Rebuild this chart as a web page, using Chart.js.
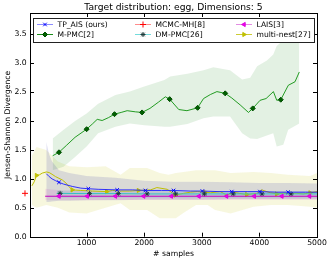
<!DOCTYPE html>
<html>
<head>
<meta charset="utf-8">
<script src="https://cdn.jsdelivr.net/npm/chart.js@4/dist/chart.umd.min.js"></script>
<style>
  html, body { margin: 0; padding: 0; background: #fff; }
  #wrap { width: 332px; height: 263px; }
</style>
</head>
<body>
<div id="wrap"><canvas id="chart" width="332" height="263"></canvas></div>
<script>
const titleText = 'Target distribution: egg, Dimensions: 5';
const xTicks = [1000, 2000, 3000, 4000, 5000];
const yTicks = [0, 0.5, 1.0, 1.5, 2.0, 2.5, 3.0, 3.5];

// TP_AIS (ours)
const tpX = [300, 350, 400, 460, 520, 600, 750, 900, 1030, 1200, 1530, 1800, 2020, 2300, 2510, 2800, 3010, 3300, 3520, 3800, 4010, 4300, 4500, 4800, 5000];
const tpY = [1.09, 1.04, 1.00, 0.97, 0.94, 0.91, 0.87, 0.84, 0.83, 0.82, 0.81, 0.81, 0.80, 0.80, 0.80, 0.79, 0.79, 0.78, 0.78, 0.78, 0.78, 0.77, 0.77, 0.77, 0.77];
const tpMarks = [520, 1030, 1530, 2020, 2510, 3010, 3520, 4010, 4500];
const tpBandX = [300, 350, 400, 520, 700, 1000, 1500, 2000, 2500, 3000, 3500, 4000, 4500, 5000];
const tpUp = [1.64, 1.42, 1.30, 1.15, 1.10, 1.05, 1.02, 0.97, 0.95, 0.95, 0.94, 0.93, 0.93, 0.92];
const tpLo = [0.60, 0.60, 0.61, 0.62, 0.62, 0.63, 0.63, 0.64, 0.64, 0.64, 0.65, 0.65, 0.65, 0.65];

// MCMC-MH[8]
const mhX = [-70];
const mhY = [0.75];

// LAIS[3]
const laisX = [280, 520, 1010, 1500, 1990, 2470, 2950, 3430, 3910, 4390, 4870, 5000];
const laisY = [0.70, 0.70, 0.70, 0.70, 0.70, 0.70, 0.70, 0.70, 0.70, 0.70, 0.70, 0.70];
const laisMarks = [520, 1010, 1500, 1990, 2470, 2950, 3430, 3910, 4390, 4870];
const laisBandX = [280, 600, 1000, 2000, 3000, 4000, 5000];
const laisUp = [0.83, 0.80, 0.79, 0.79, 0.78, 0.78, 0.78];
const laisLo = [0.63, 0.63, 0.63, 0.64, 0.64, 0.64, 0.64];

// M-PMC[2]
const pmcX = [410, 520, 650, 800, 1000, 1100, 1184, 1270, 1380, 1484, 1600, 1704, 1850, 1963, 2100, 2250, 2367, 2442, 2600, 2742, 2927, 3030, 3150, 3262, 3406, 3520, 3666, 3810, 3885, 4012, 4116, 4243, 4301, 4371, 4502, 4618, 4693];
const pmcY = [1.40, 1.46, 1.58, 1.72, 1.86, 1.95, 2.03, 2.01, 2.06, 2.12, 2.15, 2.18, 2.16, 2.15, 2.22, 2.33, 2.42, 2.38, 2.20, 2.18, 2.23, 2.39, 2.46, 2.51, 2.48, 2.40, 2.28, 2.15, 2.22, 2.36, 2.39, 2.51, 2.36, 2.37, 2.62, 2.68, 2.85];
const pmcMarks = [520, 1000, 1484, 1963, 2442, 2927, 3406, 3885, 4371];
const pmcBandX = [410, 600, 800, 1000, 1200, 1500, 1750, 2000, 2350, 2450, 2750, 3030, 3200, 3490, 3700, 3840, 3960, 4130, 4240, 4300, 4415, 4500, 4693];
const pmcUp = [1.70, 1.85, 2.00, 2.13, 2.30, 2.45, 2.51, 2.60, 2.71, 2.77, 2.82, 2.88, 2.93, 2.88, 2.72, 2.75, 2.95, 3.05, 3.15, 3.30, 3.40, 3.55, 3.80];
const pmcLo = [1.15, 1.21, 1.38, 1.56, 1.79, 1.90, 1.96, 1.93, 1.90, 1.90, 1.95, 2.05, 2.08, 2.08, 1.79, 1.70, 1.69, 1.75, 1.79, 1.56, 1.59, 1.85, 1.96];

// DM-PMC[26]
const dmX = [480, 540, 1050, 1550, 2050, 2545, 3045, 3545, 4045, 4550, 5000];
const dmY = [0.75, 0.75, 0.745, 0.745, 0.74, 0.74, 0.74, 0.74, 0.74, 0.74, 0.74];
const dmMarks = [540, 1050, 1550, 2050, 2545, 3045, 3545, 4045, 4550];
const dmBandX = [480, 1000, 2000, 3000, 4000, 5000];
const dmUp = [0.80, 0.80, 0.79, 0.79, 0.79, 0.79];
const dmLo = [0.67, 0.67, 0.67, 0.67, 0.67, 0.67];

// multi-nest[27]
const mnX = [50, 90, 130, 180, 230, 300, 350, 400, 460, 520, 580, 640, 690, 750, 900, 1100, 1350, 1450, 1590, 1750, 1900, 2110, 2220, 2400, 2540, 2680, 2800, 2920, 3050, 3150, 3320, 3435, 3550, 3650, 3780, 3955, 4040, 4190, 4300, 4420, 4650, 4760, 4880, 5000];
const mnY = [0.88, 0.95, 1.06, 1.07, 1.10, 1.12, 1.11, 1.08, 1.04, 1.01, 0.98, 0.93, 0.87, 0.81, 0.80, 0.79, 0.78, 0.80, 0.79, 0.79, 0.80, 0.81, 0.85, 0.82, 0.72, 0.75, 0.77, 0.78, 0.77, 0.76, 0.78, 0.72, 0.77, 0.75, 0.73, 0.75, 0.81, 0.76, 0.74, 0.75, 0.75, 0.74, 0.76, 0.78];
const mnMarks = [130, 750, 1350, 1900, 2540, 3050, 3780, 4300, 4880];
const mnBandX = [50, 130, 300, 500, 700, 1000, 1330, 1590, 1750, 2050, 2270, 2420, 2550, 2680, 2900, 3100, 3230, 3500, 3900, 4200, 4490, 4880, 5000];
const mnUp = [1.40, 1.55, 1.50, 1.30, 1.22, 1.20, 1.22, 1.07, 1.19, 1.19, 1.10, 1.07, 1.10, 1.12, 1.15, 1.15, 1.15, 1.10, 1.12, 1.10, 1.07, 1.05, 1.10];
const mnLo = [0.55, 0.50, 0.55, 0.50, 0.42, 0.40, 0.50, 0.58, 0.46, 0.46, 0.32, 0.32, 0.32, 0.41, 0.55, 0.55, 0.46, 0.40, 0.52, 0.55, 0.55, 0.52, 0.50];

const FONT = 'DejaVu Sans';

function pts(xs, ys, marks) {
  marks = marks || [];
  return xs.map((x, i) => ({ x: x, y: ys[i], m: marks.includes(x) }));
}

function line(label, xs, ys, marks, color, mark, order) {
  return {
    label: label,
    data: pts(xs, ys, marks),
    borderColor: color,
    borderWidth: 1,
    backgroundColor: mark.fill,
    pointBorderColor: mark.stroke,
    pointBackgroundColor: mark.fill,
    pointStyle: mark.style,
    rotation: mark.rotation || 0,
    pointBorderWidth: mark.bw || 1,
    pointRadius: c => (c.raw && c.raw.m ? mark.r : 0),
    pointHoverRadius: 10,
    fill: false,
    tension: 0,
    order: order,
    mark: mark
  };
}

function band(xs, up, lo, color, order) {
  const none = 'rgba(0,0,0,0)';
  return [
    { data: pts(xs, up), borderColor: none, borderWidth: 1, pointRadius: 0, backgroundColor: color, fill: '+1', tension: 0, order: order },
    { data: pts(xs, lo), borderColor: none, borderWidth: 1, pointRadius: 0, fill: false, tension: 0, order: order }
  ];
}

const mkTP = { style: 'crossRot', stroke: '#0000ff', fill: '#0000ff', r: 2.5 };
const mkMH = { style: 'cross', stroke: '#ff0000', fill: '#ff0000', r: 3 };
const mkLA = { style: 'triangle', rotation: -90, stroke: '#dd00dd', fill: '#ee00ee', r: 2.4 };
const mkPM = { style: 'rectRot', stroke: '#004d00', fill: '#006000', r: 2.5 };
const mkDM = { style: 'star', stroke: '#1f3a3a', fill: '#1f3a3a', r: 2.5 };
const mkMN = { style: 'triangle', rotation: 90, stroke: '#bfbf00', fill: '#bfbf00', r: 2.4 };

const sTP = line('TP_AIS (ours)', tpX, tpY, tpMarks, 'rgba(30,30,255,0.9)', mkTP, 3);
const sMH = line('MCMC-MH[8]', mhX, mhY, mhX, '#ff0000', mkMH, 1);
sMH.clip = false;
const sLA = line('LAIS[3]', laisX, laisY, laisMarks, '#c000c0', mkLA, 4);
const sPM = line('M-PMC[2]', pmcX, pmcY, pmcMarks, 'rgba(0,140,0,0.85)', mkPM, 2);
const sDM = line('DM-PMC[26]', dmX, dmY, dmMarks, '#33c4c4', mkDM, 5);
const sMN = line('multi-nest[27]', mnX, mnY, mnMarks, '#bfbf00', mkMN, 6);

const datasets = [].concat(
  band(mnBandX, mnUp, mnLo, 'rgba(191,191,0,0.13)', 20),
  band(pmcBandX, pmcUp, pmcLo, 'rgba(0,128,0,0.11)', 19),
  band(tpBandX, tpUp, tpLo, 'rgba(70,70,170,0.17)', 18),
  band(laisBandX, laisUp, laisLo, 'rgba(191,0,191,0.10)', 17),
  band(dmBandX, dmUp, dmLo, 'rgba(0,191,191,0.10)', 16),
  [sMN, sTP, sDM, sLA, sPM, sMH]
);

// legend in matplotlib's column order (3 columns, 2 rows)
const legendCols = [[sTP, sPM], [sMH, sDM], [sLA, sMN]];
const legendLineColor = {
  'TP_AIS (ours)': 'rgba(0,0,255,0.45)',
  'MCMC-MH[8]': 'rgba(255,0,0,0.45)',
  'LAIS[3]': 'rgba(191,0,191,0.45)',
  'M-PMC[2]': 'rgba(0,128,0,0.9)',
  'DM-PMC[26]': 'rgba(0,191,191,0.55)',
  'multi-nest[27]': 'rgba(191,191,0,0.8)'
};

function marker(ctx, mark, x, y) {
  ctx.save();
  ctx.strokeStyle = mark.stroke;
  ctx.fillStyle = mark.fill;
  ctx.lineWidth = mark.bw || 1;
  Chart.helpers.drawPoint(ctx, { pointStyle: mark.style, radius: mark.r, rotation: mark.rotation || 0, borderWidth: mark.bw || 1 }, x, y);
  ctx.restore();
}

const decor = {
  id: 'decor',
  afterDatasetsDraw(chart) {
    const ctx = chart.ctx, a = chart.chartArea;
    const xs = chart.scales.x, ys = chart.scales.y;
    ctx.save();
    ctx.strokeStyle = '#000';
    ctx.lineWidth = 1;
    ctx.beginPath();
    xTicks.forEach(v => {
      const p = Math.round(xs.getPixelForValue(v)) + 0.5;
      ctx.moveTo(p, a.bottom); ctx.lineTo(p, a.bottom - 4);
      ctx.moveTo(p, a.top); ctx.lineTo(p, a.top + 4);
    });
    yTicks.forEach(v => {
      const p = Math.round(ys.getPixelForValue(v)) + 0.5;
      ctx.moveTo(a.left, p); ctx.lineTo(a.left + 4, p);
      ctx.moveTo(a.right, p); ctx.lineTo(a.right - 4, p);
    });
    ctx.stroke();
    ctx.strokeRect(Math.round(a.left) + 0.5, Math.round(a.top) + 0.5, Math.round(a.right - a.left), Math.round(a.bottom - a.top));
    ctx.restore();
  },
  afterDraw(chart) {
    const ctx = chart.ctx, a = chart.chartArea;
    ctx.save();
    // title
    ctx.fillStyle = '#000';
    ctx.font = '9.2px "' + FONT + '"';
    ctx.textAlign = 'center';
    ctx.textBaseline = 'middle';
    ctx.fillText(titleText, (a.left + a.right) / 2, 7.5);
    // legend box
    const bx = a.left + 3, by = a.top + 5, bw = 281, bh = 24;
    ctx.fillStyle = '#fff';
    ctx.fillRect(bx, by, bw, bh);
    ctx.strokeStyle = '#222';
    ctx.lineWidth = 1;
    ctx.strokeRect(Math.round(bx) + 0.5, Math.round(by) + 0.5, bw, bh);
    const colX = [bx + 4, bx + 102, bx + 203];
    const rowY = [by + 6.5, by + 16.5];
    ctx.font = '7.6px "' + FONT + '"';
    ctx.textAlign = 'left';
    legendCols.forEach((col, ci) => {
      col.forEach((ds, ri) => {
        const x0 = colX[ci], y0 = rowY[ri];
        ctx.strokeStyle = legendLineColor[ds.label];
        ctx.lineWidth = 1;
        ctx.beginPath();
        ctx.moveTo(x0, y0); ctx.lineTo(x0 + 16, y0);
        ctx.stroke();
        marker(ctx, ds.mark, x0 + 8, y0);
        ctx.fillStyle = '#000';
        ctx.fillText(ds.label, x0 + 20.5, y0 + 0.5);
      });
    });
    ctx.restore();
  }
};

new Chart(document.getElementById('chart'), {
  type: 'line',
  data: { datasets: datasets },
  plugins: [decor],
  options: {
    responsive: false,
    animation: false,
    events: [],
    layout: { padding: { left: 0, right: 15, top: 13, bottom: 0 } },
    plugins: {
      legend: { display: false },
      title: { display: false },
      tooltip: { enabled: false }
    },
    scales: {
      x: {
        type: 'linear',
        min: 17,
        max: 5000,
        afterFit: s => { s.height = 26.3; },
        afterBuildTicks: s => { s.ticks = xTicks.map(v => ({ value: v })); },
        grid: { display: false, drawTicks: false },
        border: { display: false },
        ticks: { color: '#000', padding: 2, maxRotation: 0, font: { family: FONT, size: 7.7 }, callback: v => String(v) },
        title: { display: true, text: '# samples', color: '#000', padding: { top: 0, bottom: 4.1 }, font: { family: FONT, size: 7.7 } }
      },
      y: {
        type: 'linear',
        min: 0,
        max: 3.87,
        afterFit: s => { s.width = 30; },
        afterBuildTicks: s => { s.ticks = yTicks.map(v => ({ value: v })); },
        grid: { display: false, drawTicks: false },
        border: { display: false },
        ticks: { color: '#000', padding: 3.3, font: { family: FONT, size: 7.7 }, callback: v => v.toFixed(1) },
        title: { display: true, text: 'Jensen-Shannon Divergence', color: '#000', padding: { top: 3.7, bottom: 0 }, font: { family: FONT, size: 7.7 } }
      }
    }
  }
});
</script>
</body>
</html>
